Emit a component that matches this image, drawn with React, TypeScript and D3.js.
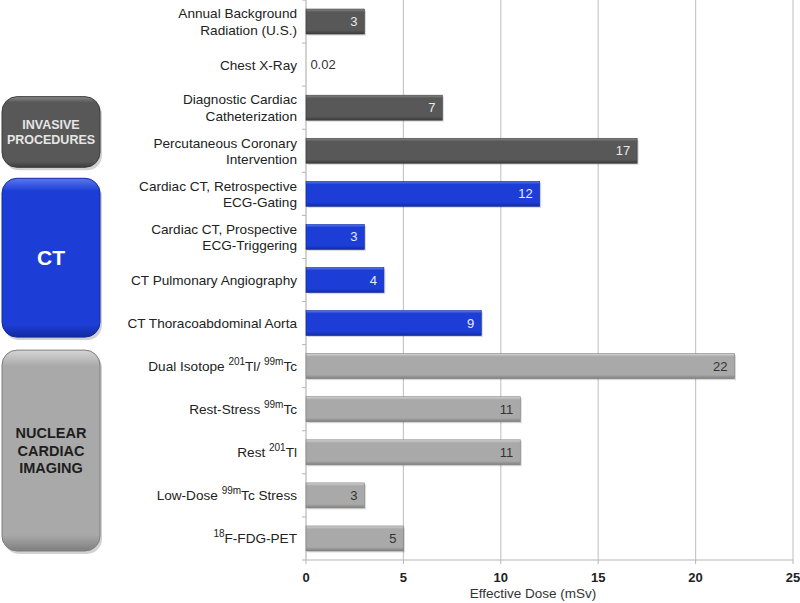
import React from "react";
import * as d3 from "d3";

type Seg = { t: string; sup?: boolean };
const categories: Seg[][][] = [
  [[{ t: "Annual Background" }], [{ t: "Radiation (U.S.)" }]],
  [[{ t: "Chest X-Ray" }]],
  [[{ t: "Diagnostic Cardiac" }], [{ t: "Catheterization" }]],
  [[{ t: "Percutaneous Coronary" }], [{ t: "Intervention" }]],
  [[{ t: "Cardiac CT, Retrospective" }], [{ t: "ECG-Gating" }]],
  [[{ t: "Cardiac CT, Prospective" }], [{ t: "ECG-Triggering" }]],
  [[{ t: "CT Pulmonary Angiography" }]],
  [[{ t: "CT Thoracoabdominal Aorta" }]],
  [[{ t: "Dual Isotope " }, { t: "201", sup: true }, { t: "Tl/ " }, { t: "99m", sup: true }, { t: "Tc" }]],
  [[{ t: "Rest-Stress " }, { t: "99m", sup: true }, { t: "Tc" }]],
  [[{ t: "Rest " }, { t: "201", sup: true }, { t: "Tl" }]],
  [[{ t: "Low-Dose " }, { t: "99m", sup: true }, { t: "Tc  Stress" }]],
  [[{ t: "18", sup: true }, { t: "F-FDG-PET" }]],
];
const values = [3, 0.02, 7, 17, 12, 3, 4, 9, 22, 11, 11, 3, 5];
const valueLabels = ["3", "0.02", "7", "17", "12", "3", "4", "9", "22", "11", "11", "3", "5"];
const groupOf = ["dark", "dark", "dark", "dark", "blue", "blue", "blue", "blue", "light", "light", "light", "light", "light"];
const xTicks = [0, 5, 10, 15, 20, 25];

const groups = [
  { key: "dark", lines: ["INVASIVE", "PROCEDURES"], from: 2, to: 3, inTop: 10.5, inBot: 5 },
  { key: "blue", lines: ["CT"], from: 4, to: 7, inTop: 6, inBot: 7.5 },
  { key: "light", lines: ["NUCLEAR", "CARDIAC", "IMAGING"], from: 8, to: 12, inTop: 5.5, inBot: 9 },
];

const colors: Record<string, { base: string; hi: string; lo: string; text: string; boxText: string }> = {
  dark: { base: "#585858", hi: "#8a8a8a", lo: "#3c3c3c", text: "#e8e8e8", boxText: "#e6e6e6" },
  blue: { base: "#1d3ed6", hi: "#5a78ee", lo: "#122aa0", text: "#e8ecff", boxText: "#ffffff" },
  light: { base: "#a9a9a9", hi: "#d6d6d6", lo: "#7e7e7e", text: "#333333", boxText: "#1e1e1e" },
};

export default function App() {
  const W = 800, H = 603;
  const x = d3.scaleLinear().domain([0, 25]).range([306, 793]);
  const y = d3.scaleBand<number>().domain(d3.range(values.length)).range([0, 560]).paddingInner(0.42).paddingOuter(0.21);
  const band = d3.scaleBand<number>().domain(d3.range(values.length)).range([0, 560]);
  const font = "'Liberation Sans', Arial, sans-serif";
  const bh = y.bandwidth();

  return (
    <svg width={W} height={H} style={{ position: "absolute", left: 0, top: 0 }} fontFamily={font}>
      <defs>
        {Object.entries(colors).map(([k, c]) => (
          <linearGradient key={k} id={"g-" + k} x1="0" y1="0" x2="0" y2="1">
            <stop offset="0" stopColor={c.hi} />
            <stop offset="0.12" stopColor={c.base} />
            <stop offset="0.85" stopColor={c.base} />
            <stop offset="1" stopColor={c.lo} />
          </linearGradient>
        ))}
        {Object.entries(colors).map(([k, c]) => (
          <linearGradient key={k} id={"b-" + k} x1="0" y1="0" x2="0" y2="1">
            <stop offset="0" stopColor={c.hi} />
            <stop offset="0.08" stopColor={c.base} />
            <stop offset="0.92" stopColor={c.base} />
            <stop offset="1" stopColor={c.lo} />
          </linearGradient>
        ))}
      </defs>
      <rect width={W} height={H} fill="#fff" />
      {xTicks.slice(1).map((t) => (
        <line key={t} x1={x(t)} x2={x(t)} y1={0} y2={560} stroke="#c8c8c8" strokeWidth={1.2} />
      ))}
      <line x1={x(0)} x2={x(0)} y1={0} y2={560} stroke="#b5b5b5" strokeWidth={1.2} />
      {d3.range(values.length + 1).map((i) => {
        const yy = i < values.length ? band(i)! : 560;
        return <line key={i} x1={x(0) - 4} x2={x(0)} y1={yy} y2={yy} stroke="#b5b5b5" />;
      })}
      <line x1={x(0)} x2={x(25)} y1={560} y2={560} stroke="#b5b5b5" strokeWidth={1.2} />
      {xTicks.map((t) => (
        <g key={t}>
          <line x1={x(t)} x2={x(t)} y1={560} y2={564} stroke="#b5b5b5" />
          <text x={x(t)} y={582} textAnchor="middle" fontSize={13} fontWeight="bold" fill="#222">{t}</text>
        </g>
      ))}
      <text x={533} y={598} textAnchor="middle" fontSize={13.5} fill="#333">Effective Dose (mSv)</text>
      {values.map((v, i) => {
        const g = groupOf[i];
        const c = colors[g];
        const y0 = y(i)!;
        const w = x(v) - x(0);
        const inside = w > 20;
        return (
          <g key={i}>
            {w > 1 && (
              <>
                <rect x={x(0) + 1.5} y={y0 + 1.5} width={w} height={bh} fill="#000" opacity={0.15} />
                <rect x={x(0)} y={y0} width={w} height={bh} fill={`url(#g-${g})`} stroke={c.lo} strokeWidth={0.6} />
              </>
            )}
            <text
              x={inside ? x(v) - 7 : x(v) + 4}
              y={y0 + bh / 2 + 4.5}
              textAnchor={inside ? "end" : "start"}
              fontSize={13}
              fill={inside ? c.text : "#333"}
            >
              {valueLabels[i]}
            </text>
          </g>
        );
      })}
      {categories.map((lines, i) => {
        const cy = band(i)! + band.bandwidth() / 2;
        const lh = 16.5;
        const startY = cy - ((lines.length - 1) * lh) / 2 + 5;
        return (
          <text key={i} x={297} textAnchor="end" fontSize={13.6} fill="#222">
            {lines.map((segs, li) => (
              <tspan key={li} x={297} y={startY + li * lh}>
                {segs.map((s, si) =>
                  s.sup ? (
                    <tspan key={si} fontSize={10} dy={-6}>{s.t}</tspan>
                  ) : (
                    <tspan key={si} dy={si > 0 && segs[si - 1].sup ? 6 : 0}>{s.t}</tspan>
                  )
                )}
              </tspan>
            ))}
          </text>
        );
      })}
      {groups.map((gr) => {
        const c = colors[gr.key];
        const top = band(gr.from)! + gr.inTop;
        const bottom = band(gr.to)! + band.bandwidth() - gr.inBot;
        const hgt = bottom - top;
        const cy = top + hgt / 2;
        const isCT = gr.key === "blue";
        const fs = isCT ? 21 : gr.key === "light" ? 14.5 : 12.5;
        const lh = fs * 1.2;
        return (
          <g key={gr.key}>
            <rect x={4} y={top + 3} width={98} height={hgt} rx={15} fill="#000" opacity={0.18} />
            <rect x={2} y={top} width={98} height={hgt} rx={15} fill={`url(#b-${gr.key})`} stroke={c.lo} strokeWidth={1} />
            <text textAnchor="middle" fontSize={fs} fontWeight="bold" fill={c.boxText}>
              {gr.lines.map((l, li) => (
                <tspan key={li} x={51} y={cy - ((gr.lines.length - 1) * lh) / 2 + fs * 0.36 + li * lh}>{l}</tspan>
              ))}
            </text>
          </g>
        );
      })}
    </svg>
  );
}
